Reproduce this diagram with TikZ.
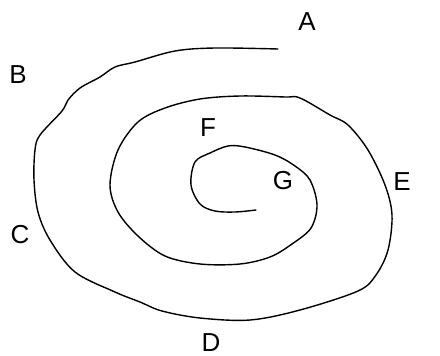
\documentclass[tikz,border=0pt]{standalone}
\usepackage{fontspec}
\setmainfont{Liberation Sans}
\usetikzlibrary{calc}

\begin{document}
\begin{tikzpicture}[
  x=1pt,
  y=-1pt,
  letter/.style={
    inner sep=0pt,
    font=\fontsize{26}{30}\selectfont
  },
  curve/.style={
    line width=1.4pt,
    line join=round,
    line cap=round
  }
]
\useasboundingbox (0,0) rectangle (440,356);
\node[letter] (A) at (307,22) {A};
\node[letter] (B) at (18,75) {B};
\node[letter] (C) at (20,235) {C};
\node[letter] (D) at (211,343) {D};
\node[letter] (E) at (402,182) {E};
\node[letter] (F) at (208,128) {F};
\node[letter] (G) at (283,181) {G};
\draw[curve] plot[smooth,tension=0.55] coordinates {
  (278,49) (215,48) (175,51) (135,62) (115,67) (100,77) (80,88) (68,100)
  (62,111) (40,135) (35,150) (34,180) (38,212) (50,240) (75,272) (115,292)
  (140,302) (162,311) (200,318) (250,320) (300,310) (358,291) (376,275)
  (388,250) (392,215) (385,185) (368,150) (348,125) (330,115) (300,98)
  (285,97) (240,96) (200,99) (165,108) (138,122) (118,150) (110,185)
  (118,212) (138,236) (165,256) (200,264) (240,264) (270,257) (292,244)
  (311,228) (317,205) (310,180) (295,166) (275,155) (245,147) (228,146)
  (210,153) (195,162) (191,185) (200,204) (215,211) (235,212) (256,210)
};
\end{tikzpicture}
\end{document}
